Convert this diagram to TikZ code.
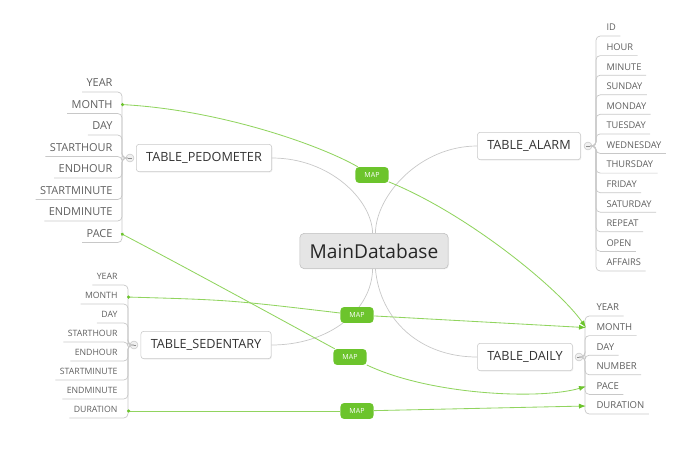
\documentclass[tikz,border=0pt]{standalone}
\usepackage{fontspec}
\setmainfont{Open Sans}
\usetikzlibrary{arrows.meta,shadows}
\definecolor{linegray}{RGB}{200,200,200}
\definecolor{fieldtext}{RGB}{95,95,95}
\definecolor{relgreen}{RGB}{145,212,95}
\definecolor{mapgreen}{RGB}{108,196,44}
\tikzset{
  tbl/.style={draw=linegray, fill=white, rounded corners=2pt, text=black!80,
    font=\fontsize{9}{10}\selectfont, inner xsep=7pt, minimum height=19.5pt,
    drop shadow={opacity=0.12, shadow xshift=0.6pt, shadow yshift=-0.6pt}},
  mainbox/.style={draw=black!25, fill=black!10, rounded corners=3pt, text=black!85,
    font=\fontsize{13.6}{15}\selectfont, inner xsep=7pt, minimum height=25pt,
    drop shadow={opacity=0.12, shadow xshift=0.6pt, shadow yshift=-0.6pt}},
  fld/.style={font=\fontsize{#1}{#1}\selectfont, text=fieldtext, inner xsep=3pt,
    inner ysep=3.5pt, text height=5pt, text depth=0pt},
  collapse/.style={circle, draw=linegray, fill=black!6, inner sep=0pt, minimum size=5.6pt,
    path picture={\draw[black!45, line width=0.5pt]
      ([xshift=-1.3pt]path picture bounding box.center) -- ([xshift=1.3pt]path picture bounding box.center);}},
  branch/.style={draw=linegray, line width=0.5pt, rounded corners=3pt},
  trunk/.style={draw=linegray, line width=0.5pt},
  relation/.style={draw=relgreen, line width=0.6pt},
  maplbl/.style={fill=mapgreen, rounded corners=2.5pt, text=white, inner sep=0pt,
    font=\fontsize{5}{5}\selectfont, minimum width=23.5pt, minimum height=11.3pt}
}
\begin{document}
\begin{tikzpicture}[x=0.025cm, y=-0.025cm]
    \useasboundingbox (0,0) rectangle (700,456);

    \node[mainbox] (main) at (374,251) {MainDatabase};

    \node[tbl] (ped) at (204,158) {TABLE\_PEDOMETER};
    \node[collapse] (pc) at (130,158) {};
    \node[fld=7.8pt, anchor=south east] (p1) at (117,92) {YEAR};
    \node[fld=7.8pt, anchor=south east] (p2) at (117,113.5) {MONTH};
    \node[fld=7.8pt, anchor=south east] (p3) at (117,135) {DAY};
    \node[fld=7.8pt, anchor=south east] (p4) at (117,156.5) {STARTHOUR};
    \node[fld=7.8pt, anchor=south east] (p5) at (117,178) {ENDHOUR};
    \node[fld=7.8pt, anchor=south east] (p6) at (117,199.5) {STARTMINUTE};
    \node[fld=7.8pt, anchor=south east] (p7) at (117,221) {ENDMINUTE};
    \node[fld=7.8pt, anchor=south east] (p8) at (117,242.5) {PACE};
    \foreach \i in {1,...,8}
        \draw[branch] (pc.west) -- (122,158) |- (p\i.south west);

    \node[tbl] (alarm) at (529,146) {TABLE\_ALARM};
    \node[collapse] (ac) at (588,146) {};
    \node[fld=6.6pt, anchor=south west] (a1) at (602,36) {ID};
    \node[fld=6.6pt, anchor=south west] (a2) at (602,55.6) {HOUR};
    \node[fld=6.6pt, anchor=south west] (a3) at (602,75.2) {MINUTE};
    \node[fld=6.6pt, anchor=south west] (a4) at (602,94.8) {SUNDAY};
    \node[fld=6.6pt, anchor=south west] (a5) at (602,114.3) {MONDAY};
    \node[fld=6.6pt, anchor=south west] (a6) at (602,133.9) {TUESDAY};
    \node[fld=6.6pt, anchor=south west] (a7) at (602,153.5) {WEDNESDAY};
    \node[fld=6.6pt, anchor=south west] (a8) at (602,173.1) {THURSDAY};
    \node[fld=6.6pt, anchor=south west] (a9) at (602,192.7) {FRIDAY};
    \node[fld=6.6pt, anchor=south west] (a10) at (602,212.2) {SATURDAY};
    \node[fld=6.6pt, anchor=south west] (a11) at (602,231.8) {REPEAT};
    \node[fld=6.6pt, anchor=south west] (a12) at (602,251.4) {OPEN};
    \node[fld=6.6pt, anchor=south west] (a13) at (602,271) {AFFAIRS};
    \foreach \i in {1,...,13}
        \draw[branch] (ac.east) -- (596,146) |- (a\i.south east);

    \node[tbl] (sed) at (206,345) {TABLE\_SEDENTARY};
    \node[collapse] (sc) at (134,345) {};
    \node[fld=6.2pt, anchor=south east] (s1) at (122,285) {YEAR};
    \node[fld=6.2pt, anchor=south east] (s2) at (122,304) {MONTH};
    \node[fld=6.2pt, anchor=south east] (s3) at (122,323) {DAY};
    \node[fld=6.2pt, anchor=south east] (s4) at (122,342) {STARTHOUR};
    \node[fld=6.2pt, anchor=south east] (s5) at (122,361) {ENDHOUR};
    \node[fld=6.2pt, anchor=south east] (s6) at (122,380) {STARTMINUTE};
    \node[fld=6.2pt, anchor=south east] (s7) at (122,399) {ENDMINUTE};
    \node[fld=6.2pt, anchor=south east] (s8) at (122,418) {DURATION};
    \foreach \i in {1,...,8}
        \draw[branch] (sc.west) -- (128,345) |- (s\i.south west);

    \node[tbl] (daily) at (525,357) {TABLE\_DAILY};
    \node[collapse] (dc) at (579,357) {};
    \node[fld=6.8pt, anchor=south west] (d1) at (592,316) {YEAR};
    \node[fld=6.8pt, anchor=south west] (d2) at (592,335.6) {MONTH};
    \node[fld=6.8pt, anchor=south west] (d3) at (592,355.2) {DAY};
    \node[fld=6.8pt, anchor=south west] (d4) at (592,374.8) {NUMBER};
    \node[fld=6.8pt, anchor=south west] (d5) at (592,394.4) {PACE};
    \node[fld=6.8pt, anchor=south west] (d6) at (592,414) {DURATION};
    \foreach \i in {1,...,6}
        \draw[branch] (dc.east) -- (585,357) |- (d\i.south east);

    \draw[trunk] ([xshift=-1pt]main.north) .. controls (372,200) and (330,158) .. (ped.east);
    \draw[trunk] ([xshift=1pt]main.north) .. controls (376,195) and (420,146) .. (alarm.west);
    \draw[trunk] ([xshift=-1pt]main.south) .. controls (372,310) and (330,345) .. (sed.east);
    \draw[trunk] ([xshift=1pt]main.south) .. controls (380,320) and (420,357) .. (daily.west);

    \node[maplbl] (m1) at (372,175) {MAP};
    \node[maplbl] (m2) at (357,315) {MAP};
    \node[maplbl] (m3) at (350,357) {MAP};
    \node[maplbl] (m4) at (357,411) {MAP};

    \draw[relation, {Circle[length=2.2pt, color=mapgreen]}-] ([shift={(4,-9)}]p2.south east) .. controls (220,110) and (320,145) .. (m1);
    \draw[relation, -{Latex[length=5pt, width=3.6pt, color=mapgreen]}] (m1) .. controls (470,215) and (560,290) .. ([shift={(-6,-8)}]d2.south west);
    \draw[relation, {Circle[length=2.2pt, color=mapgreen]}-] ([shift={(4,-9)}]p8.south east) .. controls (200,275) and (300,330) .. (m3);
    \draw[relation, -{Latex[length=5pt, width=3.6pt, color=mapgreen]}] (m3) .. controls (430,395) and (540,400) .. ([shift={(-6,-8)}]d5.south west);
    \draw[relation, {Circle[length=2.2pt, color=mapgreen]}-] ([shift={(5,-7)}]s2.south east) .. controls (230,300) .. (m2);
    \draw[relation, -{Latex[length=5pt, width=3.6pt, color=mapgreen]}] (m2) -- ([shift={(-6,-8)}]d2.south west);
    \draw[relation, {Circle[length=2.2pt, color=mapgreen]}-] ([shift={(5,-7)}]s8.south east) -- (m4);
    \draw[relation, -{Latex[length=5pt, width=3.6pt, color=mapgreen]}] (m4) -- ([shift={(-6,-8)}]d6.south west);
\end{tikzpicture}
\end{document}
